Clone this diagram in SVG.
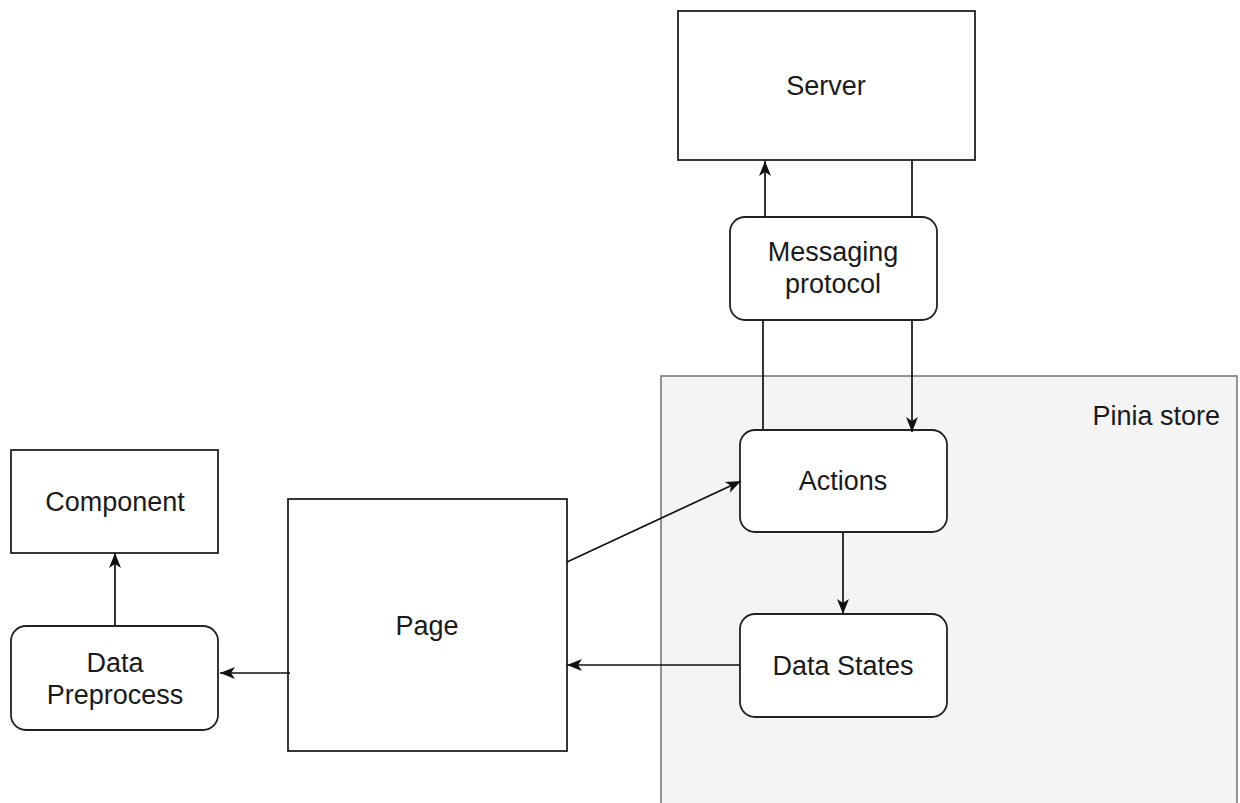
<svg xmlns="http://www.w3.org/2000/svg" width="1240" height="803" viewBox="0 0 1240 803">
<style>
.node{fill:#fff;stroke:#222;stroke-width:1.8}
.group{fill:#f4f4f4;stroke:#7a7a7a;stroke-width:1.6}
.lbl{font-family:"Liberation Sans",Arial,sans-serif;font-size:27px;fill:#1a1a1a;text-anchor:middle}
.edge{fill:none;stroke:#111;stroke-width:1.7}
</style>
<defs>
<marker id="arr" markerUnits="userSpaceOnUse" markerWidth="20" markerHeight="20" viewBox="0 0 20 20" refX="16" refY="10" orient="auto">
<path d="M1,4 L16,10 L1,16 L5,10 Z" fill="#111"/>
</marker>
</defs>
<rect width="1240" height="803" fill="#fff"/>
<g id="pinia-store">
<rect class="group" x="661" y="376" width="576" height="440"/>
<text class="lbl" x="1220" y="425" style="text-anchor:end">Pinia store</text>
</g>
<g id="server">
<rect class="node" x="678" y="11" width="297" height="149"/>
<text class="lbl" x="826" y="95">Server</text>
</g>
<g id="messaging-protocol">
<rect class="node" x="730" y="217" width="207" height="103" rx="15" ry="15"/>
<text class="lbl" x="833" y="261">Messaging</text>
<text class="lbl" x="833" y="293">protocol</text>
</g>
<g id="actions">
<rect class="node" x="740" y="430" width="207" height="102" rx="15" ry="15"/>
<text class="lbl" x="843" y="490">Actions</text>
</g>
<g id="data-states">
<rect class="node" x="740" y="614" width="207" height="103" rx="15" ry="15"/>
<text class="lbl" x="843" y="675">Data States</text>
</g>
<g id="page">
<rect class="node" x="288" y="499" width="279" height="252"/>
<text class="lbl" x="427" y="635">Page</text>
</g>
<g id="component">
<rect class="node" x="11" y="450" width="207" height="103"/>
<text class="lbl" x="115" y="511">Component</text>
</g>
<g id="data-preprocess">
<rect class="node" x="11" y="626" width="207" height="104" rx="15" ry="15"/>
<text class="lbl" x="115" y="672">Data</text>
<text class="lbl" x="115" y="704">Preprocess</text>
</g>
<g id="connectors">
<line class="edge" x1="763" y1="429" x2="763" y2="320"/>
<line class="edge" x1="765" y1="217" x2="765" y2="161" marker-end="url(#arr)"/>
<line class="edge" x1="912" y1="160" x2="912" y2="217"/>
<line class="edge" x1="912" y1="320" x2="912" y2="432" marker-end="url(#arr)"/>
<line class="edge" x1="567" y1="562" x2="741" y2="481" marker-end="url(#arr)"/>
<line class="edge" x1="843" y1="532" x2="843" y2="614" marker-end="url(#arr)"/>
<line class="edge" x1="740" y1="665" x2="567" y2="665" marker-end="url(#arr)"/>
<line class="edge" x1="290" y1="673" x2="220" y2="673" marker-end="url(#arr)"/>
<line class="edge" x1="115" y1="626" x2="115" y2="553" marker-end="url(#arr)"/>
</g>
</svg>
